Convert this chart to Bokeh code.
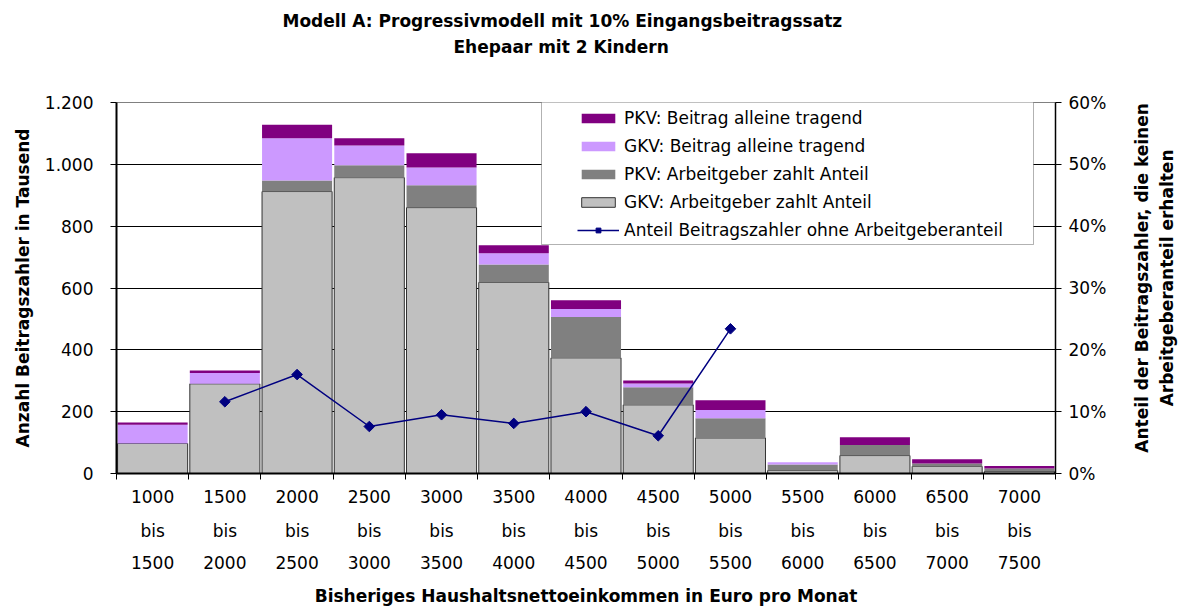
import numpy as np
from bokeh.plotting import figure
from bokeh.layouts import row
from bokeh.models import (Range1d, LinearAxis, FixedTicker, Legend, LegendItem,
                          ColumnDataSource, BoxAnnotation, Title, Label)
from bokeh.embed import file_html
from bokeh.resources import INLINE

# ---------------- data ----------------
TITLE_1 = "Modell A: Progressivmodell mit 10% Eingangsbeitragssatz"
TITLE_2 = "Ehepaar mit 2 Kindern"
X_TITLE = "Bisheriges Haushaltsnettoeinkommen in Euro pro Monat"
Y_TITLE = "Anzahl Beitragszahler in Tausend"
Y2_TITLE_1 = "Anteil der Beitragszahler, die keinen"
Y2_TITLE_2 = "Arbeitgeberanteil erhalten"

income_from = [1000, 1500, 2000, 2500, 3000, 3500, 4000, 4500, 5000, 5500, 6000, 6500, 7000]
income_to = [1500, 2000, 2500, 3000, 3500, 4000, 4500, 5000, 5500, 6000, 6500, 7000, 7500]

gkv_ag = [97, 290, 912, 957, 860, 618, 374, 222, 115, 10, 58, 23, 7]
pkv_ag = [0, 0, 36, 40, 72, 58, 132, 57, 64, 19, 34, 9, 9]
gkv_alone = [61, 35, 136, 64, 58, 36, 26, 12, 26, 7, 0, 0, 0]
pkv_alone = [7, 8, 44, 23, 46, 26, 28, 10, 32, 0, 25, 14, 8]
share_pct = [np.nan, 11.6, 16.0, 7.6, 9.5, 8.1, 10.0, 6.1, 23.4,
             np.nan, np.nan, np.nan, np.nan]

series_names = ["GKV: Arbeitgeber zahlt Anteil", "PKV: Arbeitgeber zahlt Anteil",
                "GKV: Beitrag alleine tragend", "PKV: Beitrag alleine tragend"]
line_name = "Anteil Beitragszahler ohne Arbeitgeberanteil"
bis_word = "bis"

y_ticks = [0, 200, 400, 600, 800, 1000, 1200]
y_tick_labels = ["0", "200", "400", "600", "800", "1.000", "1.200"]
pct_ticks = [0, 10, 20, 30, 40, 50, 60]
pct_tick_labels = ["0%", "10%", "20%", "30%", "40%", "50%", "60%"]

# ---------------- style / layout ----------------
FONT = "DejaVu Sans"
W_TOTAL, H = 1182, 608
W = 1115                      # main figure; the rest holds the right axis title
W2 = W_TOTAL - W
FRAME_L, FRAME_R, FRAME_T, FRAME_B = 116, 1055, 102, 473
BL, BR, BT, BB = FRAME_L, W - FRAME_R, FRAME_T, H - FRAME_B
FW = W - BL - BR
FH = H - BT - BB
n = len(income_from)
YMAX = y_ticks[-1]
PMAX = pct_ticks[-1]


def px_x(px):
    return (px - BL) / FW * n


def px_y(py):
    return (FRAME_B - py) / FH * YMAX


x = np.arange(n) + 0.5
centers = [float(v) for v in x]
src = ColumnDataSource(dict(x=x, gkv_ag=gkv_ag, pkv_ag=pkv_ag, gkv_alone=gkv_alone,
                            pkv_alone=pkv_alone, share=share_pct))

p = figure(width=W, height=H, x_range=Range1d(0, n), y_range=Range1d(0, YMAX),
           output_backend="svg", toolbar_location=None,
           min_border_left=BL, min_border_right=BR, min_border_top=BT, min_border_bottom=BB)
p.background_fill_color = "white"
p.border_fill_color = "white"
p.outline_line_color = "#808080"
p.outline_line_width = 1

p.extra_y_ranges = {"pct": Range1d(0, PMAX)}

fill_colors = ["#C0C0C0", "#808080", "#CC99FF", "#800080"]
bars = p.vbar_stack(["gkv_ag", "pkv_ag", "gkv_alone", "pkv_alone"], x="x", width=0.97,
                    source=src, fill_color=fill_colors,
                    line_color=["#333333", "#808080", "#CC99FF", "#800080"],
                    line_alpha=[1, 0, 0, 0], line_width=1)

ln = p.line("x", "share", source=src, y_range_name="pct", line_color="#000080", line_width=1.5)
mk = p.scatter("x", "share", source=src, y_range_name="pct", marker="square",
               angle=np.pi / 4, size=7.5, fill_color="#000080", line_color="#000080")

# grid
p.xgrid.visible = False
p.ygrid.ticker = FixedTicker(ticks=y_ticks[1:-1])
p.ygrid.grid_line_color = "black"
p.ygrid.grid_line_width = 1


def quiet_ticks(ax):
    ax.minor_tick_out = 0
    ax.minor_tick_in = 0
    ax.major_tick_in = 0


# left axis
ya = p.yaxis[0]
ya.ticker = FixedTicker(ticks=y_ticks)
ya.major_label_overrides = {t: l for t, l in zip(y_ticks, y_tick_labels)}
ya.major_label_text_font = FONT
ya.major_label_text_font_size = "17px"
ya.major_label_text_color = "black"
ya.major_label_standoff = 17
quiet_ticks(ya)
ya.major_tick_out = 6
ya.axis_line_width = 2
ya.axis_line_color = "black"
ya.major_tick_line_color = "black"
ya.axis_label = Y_TITLE
ya.axis_label_text_font = FONT
ya.axis_label_text_font_size = "17px"
ya.axis_label_text_font_style = "bold"
ya.axis_label_text_color = "black"
ya.axis_label_standoff = 9

# bottom axes: line 1 (with boundary ticks), line 2 ("bis"), line 3 + title
xa = p.xaxis[0]
xa.ticker = FixedTicker(ticks=centers, minor_ticks=list(range(n + 1)))
xa.major_label_overrides = {c: str(v) for c, v in zip(centers, income_from)}
quiet_ticks(xa)
xa.major_tick_out = 0
xa.minor_tick_out = 6
xa.minor_tick_line_color = "black"
xa.minor_tick_line_width = 1
xa.axis_line_width = 2
xa.axis_line_color = "black"
xa.major_label_standoff = 10

xa2 = LinearAxis(ticker=FixedTicker(ticks=centers),
                 major_label_overrides={c: bis_word for c in centers})
xa3 = LinearAxis(ticker=FixedTicker(ticks=centers),
                 major_label_overrides={c: str(v) for c, v in zip(centers, income_to)})
for ax, so in ((xa2, 15), (xa3, 12)):
    quiet_ticks(ax)
    ax.major_tick_out = 0
    ax.axis_line_color = None
    ax.major_label_standoff = so
for ax in (xa, xa2, xa3):
    ax.major_label_text_font = FONT
    ax.major_label_text_font_size = "17px"
    ax.major_label_text_color = "black"
xa3.axis_label = X_TITLE
xa3.axis_label_text_font = FONT
xa3.axis_label_text_font_size = "17px"
xa3.axis_label_text_font_style = "bold"
xa3.axis_label_text_color = "black"
xa3.axis_label_standoff = 14
p.add_layout(xa2, "below")
p.add_layout(xa3, "below")

# right axis (percent)
ra = LinearAxis(y_range_name="pct", ticker=FixedTicker(ticks=pct_ticks))
ra.major_label_overrides = {t: l for t, l in zip(pct_ticks, pct_tick_labels)}
ra.major_label_text_font = FONT
ra.major_label_text_font_size = "17px"
ra.major_label_text_color = "black"
ra.major_label_standoff = 7
quiet_ticks(ra)
ra.major_tick_out = 6
ra.axis_line_width = 1.5
ra.axis_line_color = "black"
ra.major_tick_line_color = "black"
p.add_layout(ra, "right")

# titles: stacked outward from the frame (spacer, line 2, line 1)
p.title.visible = False
spacer = Title(text=" ", standoff=24, text_font=FONT, text_font_size="17px")
t2 = Title(text=TITLE_2, align="left", offset=337, standoff=0,
           text_font=FONT, text_font_size="17px", text_font_style="bold", text_color="black")
t1 = Title(text=TITLE_1, align="left", offset=166, standoff=8,
           text_font=FONT, text_font_size="17px", text_font_style="bold", text_color="black")
p.add_layout(spacer, "above")
p.add_layout(t2, "above")
p.add_layout(t1, "above")

# legend frame
p.add_layout(BoxAnnotation(left=px_x(541), right=px_x(1033), top=px_y(101), bottom=px_y(244),
                           fill_color="white", fill_alpha=1, line_color="black",
                           line_width=1, level="annotation"))

legend = Legend(items=[
    LegendItem(label=series_names[3], renderers=[bars[3]]),
    LegendItem(label=series_names[2], renderers=[bars[2]]),
    LegendItem(label=series_names[1], renderers=[bars[1]]),
    LegendItem(label=series_names[0], renderers=[bars[0]]),
    LegendItem(label=line_name, renderers=[ln, mk]),
], location=(577 - BL, FRAME_B - 240))
legend.padding = 0
legend.margin = 0
legend.spacing = 8
legend.glyph_width = 42
legend.glyph_height = 12
legend.label_height = 20
legend.label_standoff = 5
legend.label_text_font = FONT
legend.label_text_font_size = "17px"
legend.label_text_color = "black"
legend.border_line_alpha = 0
legend.background_fill_alpha = 0
p.add_layout(legend, "center")

# right-hand strip with the two-line secondary axis title (reads bottom to top)
p2 = figure(width=W2, height=H, x_range=Range1d(W, W_TOTAL), y_range=Range1d(H, 0),
            output_backend="svg", toolbar_location=None,
            min_border=0, min_border_left=0, min_border_right=0,
            min_border_top=0, min_border_bottom=0)
p2.axis.visible = False
p2.grid.visible = False
p2.outline_line_color = None
p2.background_fill_color = "white"
p2.border_fill_color = "white"
for txt, px in zip([Y2_TITLE_1, Y2_TITLE_2], [1141, 1166]):
    p2.add_layout(Label(x=px, y=(FRAME_T + FRAME_B) / 2, text=txt, angle=np.pi / 2,
                        text_align="center", text_baseline="middle", text_font=FONT,
                        text_font_size="17px", text_font_style="bold", text_color="black"))

layout = row(p, p2, spacing=0)
open("out.html", "w").write(file_html(layout, INLINE))
